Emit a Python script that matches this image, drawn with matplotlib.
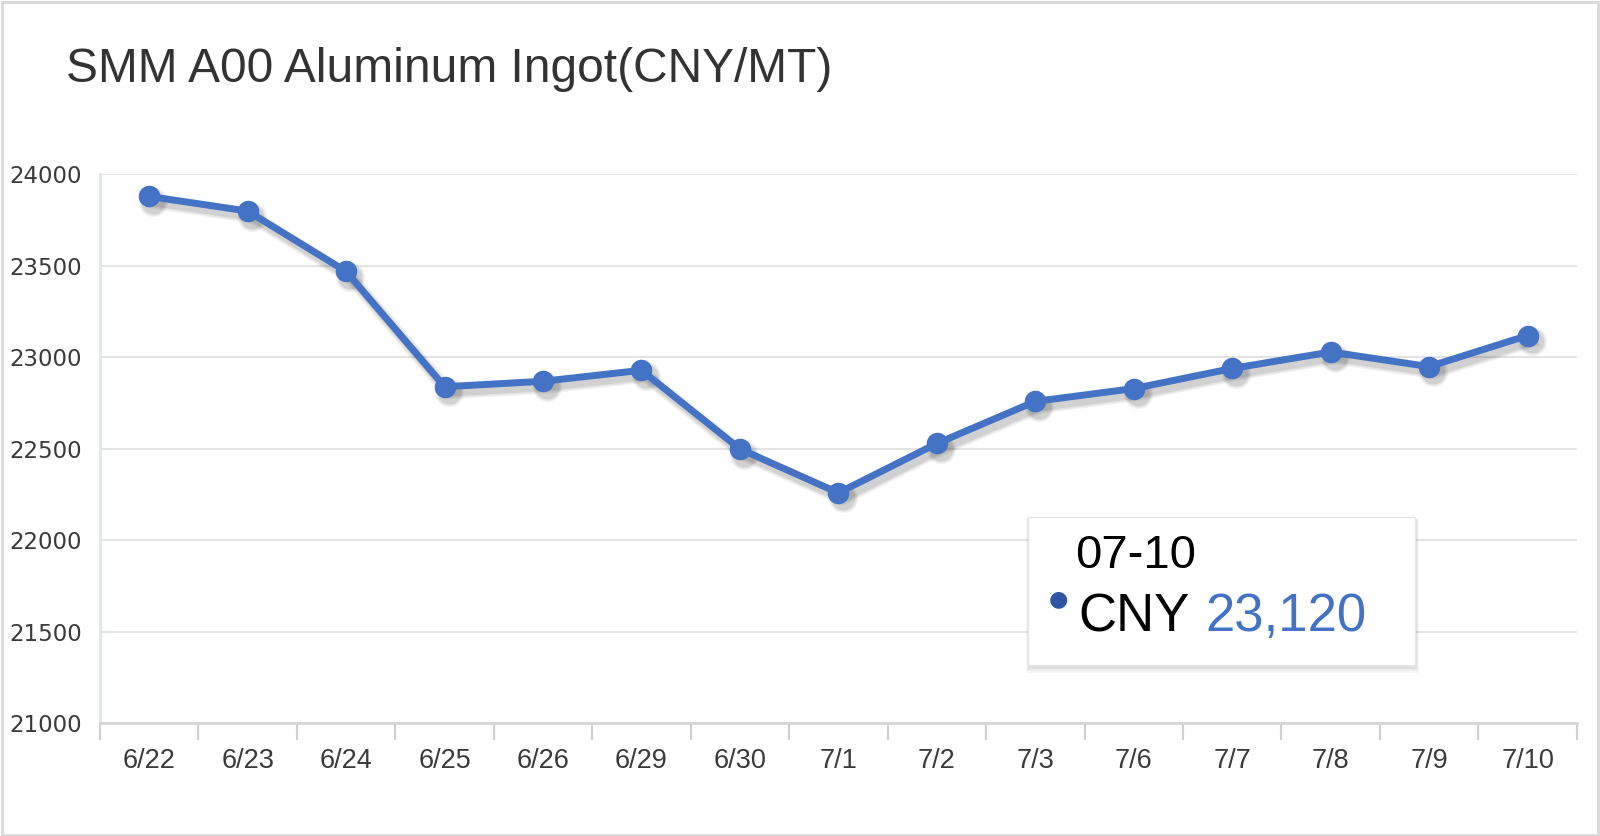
import matplotlib
matplotlib.use("Agg")
import matplotlib.pyplot as plt
import matplotlib.transforms as mtransforms
from matplotlib.patches import Rectangle

dates = ["6/22", "6/23", "6/24", "6/25", "6/26", "6/29", "6/30", "7/1",
         "7/2", "7/3", "7/6", "7/7", "7/8", "7/9", "7/10"]
prices = [23880, 23800, 23470, 22840, 22870, 22930, 22500, 22260,
          22530, 22760, 22830, 22940, 23030, 22950, 23120]
yticks = [21000, 21500, 22000, 22500, 23000, 23500, 24000]

line_color = "#4472C4"
text_color = "#3a3a3a"

fig = plt.figure(figsize=(16, 8.36), dpi=100)
fig.patch.set_facecolor("white")

# thin grey frame around the picture
fig.patches.append(Rectangle((0.001, 0.001), 0.998, 0.997, transform=fig.transFigure,
                             fill=False, edgecolor="#d9d9d9", linewidth=2))

ax = fig.add_axes([0.0625, 0.1346, 0.923, 0.6567])
x = list(range(len(dates)))

# soft drop shadow: a few faint copies shifted down-right
for lw, ms, a in [(10, 21, 0.05), (8, 19, 0.06), (6, 17, 0.08)]:
    shift = mtransforms.offset_copy(ax.transData, fig=fig, x=3, y=-4, units="points")
    ax.plot(x, prices, color="black", alpha=a, linewidth=lw, marker="o",
            markersize=ms, markeredgewidth=0, transform=shift, zorder=2)

ax.plot(x, prices, color=line_color, linewidth=5, marker="o", markersize=15.5,
        markeredgewidth=0, solid_capstyle="round", zorder=3)

ax.set_xlim(-0.5, len(dates) - 0.5)
ax.set_ylim(21000, 24000)
ax.set_yticks(yticks)
ax.set_yticklabels([str(v) for v in yticks], fontsize=16.5, color=text_color,
                   family=["DejaVu Sans"])
ax.set_xticks(x)
ax.set_xticklabels(dates, fontsize=19.5, color=text_color,
                   family=["Liberation Sans Narrow", "Liberation Sans"])
ax.set_xticks([i + 0.5 for i in range(-1, len(dates))], minor=True)
ax.tick_params(axis="x", which="major", length=0, pad=18)
ax.tick_params(axis="x", which="minor", length=12, color="#d0d0d0", width=1.5)
ax.tick_params(axis="y", length=0, pad=13)

ax.grid(axis="y", color="#e4e4e4", linewidth=1.5)
ax.set_axisbelow(True)
for side in ["top", "right"]:
    ax.spines[side].set_visible(False)
ax.spines["left"].set_color("#dfe5ef")
ax.spines["left"].set_linewidth(2)
ax.spines["bottom"].set_color("#d6d6d6")
ax.spines["bottom"].set_linewidth(2)

fig.text(66 / 1600, 1 - 69 / 836, "SMM A00 Aluminum Ingot(CNY/MT)", fontsize=34.5,
         color="#333333", va="center", ha="left", family=["Liberation Sans"])

# tooltip for the last point, with a soft shadow
bx, by, bw, bh = 1028 / 1600, 1 - 665 / 836, 387 / 1600, 148 / 836
for d, a in [(6, 0.03), (4, 0.04), (2, 0.06)]:
    dx, dy = d / 1600, d / 836
    fig.patches.append(Rectangle((bx - dx / 2 + 1 / 1600, by - dy - 2 / 836), bw + dx, bh + dy,
                                 transform=fig.transFigure, facecolor="black",
                                 edgecolor="none", alpha=a, zorder=4))
fig.patches.append(Rectangle((bx, by), bw, bh, transform=fig.transFigure,
                             facecolor="white", edgecolor="#e6e6e6", linewidth=1, zorder=5))
fig.text(1075 / 1600, 1 - 556 / 836, "07-10", fontsize=34, color="black",
         va="center", ha="left", family=["Liberation Sans"], zorder=6)
fig.text(1058 / 1600, 1 - 599 / 836, "\u25cf", fontsize=16, color="#2f55a4",
         va="center", ha="center", family=["DejaVu Sans"], zorder=6)
fig.text(1078 / 1600, 1 - 617 / 836, "CNY", fontsize=38, color="black",
         va="center", ha="left", family=["Liberation Sans"], zorder=6)
fig.text(1205 / 1600, 1 - 617 / 836, f"{prices[-1]:,}", fontsize=38, color=line_color,
         va="center", ha="left", family=["Liberation Sans"], zorder=6)

fig.savefig("out.png", dpi=100)
